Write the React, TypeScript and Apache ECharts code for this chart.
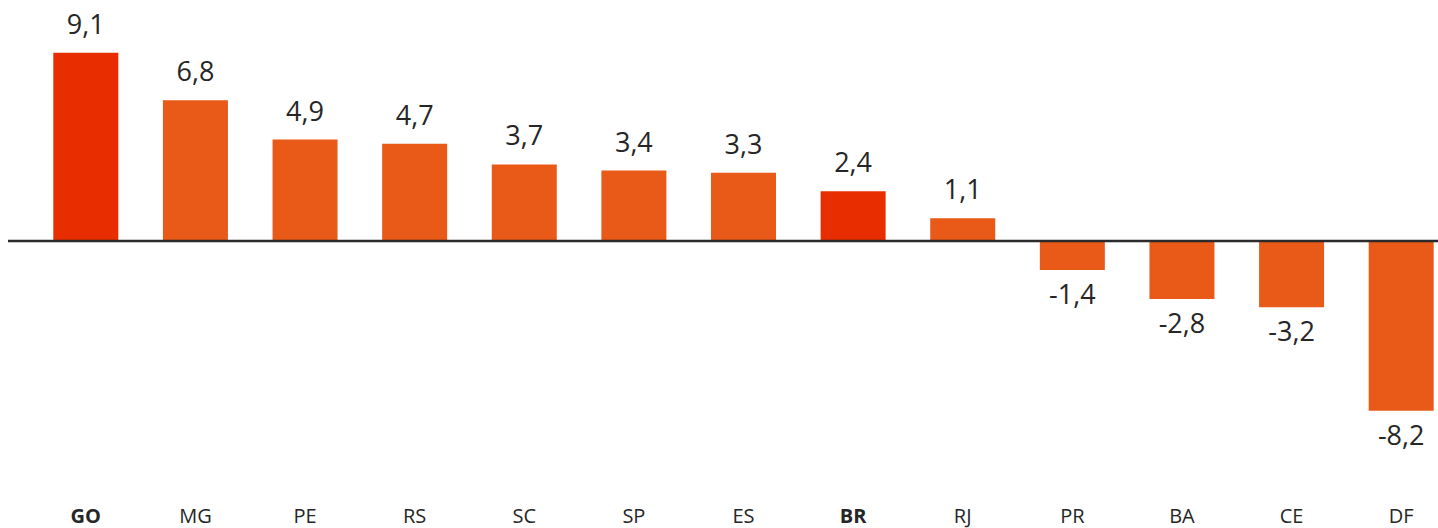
import React, { useEffect, useRef } from "react";
import * as echarts from "echarts";

const categories = ["GO", "MG", "PE", "RS", "SC", "SP", "ES", "BR", "RJ", "PR", "BA", "CE", "DF"];
const values = [9.1, 6.8, 4.9, 4.7, 3.7, 3.4, 3.3, 2.4, 1.1, -1.4, -2.8, -3.2, -8.2];
const highlighted = ["GO", "BR"];

const RED = "#E82E00";
const ORANGE = "#E95A19";
const TEXT = "#262626";
const FONT = "'Open Sans', 'Noto Sans', sans-serif";

export default function App() {
  const ref = useRef<HTMLDivElement>(null);
  useEffect(() => {
    if (!ref.current) return;
    const chart = echarts.init(ref.current, undefined, { renderer: "svg" });
    const option: any = {
      animation: false,
      backgroundColor: "#ffffff",
      grid: { left: 31, top: 34, right: 0, height: 414, containLabel: false },
      xAxis: {
        type: "category",
        data: categories,
        position: "bottom",
        axisLine: { show: false },
        axisTick: { show: false },
        axisLabel: {
          margin: 56,
          interval: 0,
          fontFamily: FONT,
          fontSize: 20,
          lineHeight: 22,
          color: TEXT,
          formatter: (v: string) => (highlighted.includes(v) ? `{b|${v}}` : v),
          rich: { b: { fontWeight: "bold", fontFamily: FONT, fontSize: 20, lineHeight: 22, color: TEXT } },
        },
      },
      yAxis: {
        type: "value",
        min: -10,
        max: 10,
        show: false,
        splitLine: { show: false },
      },
      series: [
        {
          type: "bar",
          barWidth: 65,
          data: values.map((v, i) => ({
            value: v,
            itemStyle: { color: highlighted.includes(categories[i]) ? RED : ORANGE },
            label: { position: v >= 0 ? "top" : "bottom", distance: v >= 0 ? 16 : 10 },
          })),
          label: {
            show: true,
            fontFamily: FONT,
            fontSize: 27,
            color: TEXT,
            formatter: (p: any) => String(p.value).replace(".", ","),
          },
        },
      ],
    };
    chart.setOption(option);
    const zeroY = chart.convertToPixel({ yAxisIndex: 0 }, 0) as number;
    chart.setOption({
      graphic: [
        {
          type: "line",
          z: 100,
          shape: { x1: 8, y1: zeroY, x2: 1438, y2: zeroY },
          style: { stroke: "#2b2b2b", lineWidth: 2.5 },
        },
      ],
    });
    return () => chart.dispose();
  }, []);
  return (
    <div
      style={{ position: "fixed", left: 0, top: 0, width: 1438, height: 528, overflow: "hidden", background: "#fff" }}
    >
      <div ref={ref} style={{ width: 1456, height: 528 }} />
    </div>
  );
}
